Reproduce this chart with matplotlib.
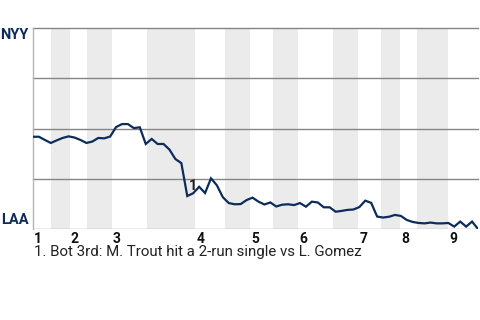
import matplotlib
matplotlib.use("Agg")
import matplotlib.pyplot as plt

plt.rcParams['font.family'] = ['Roboto', 'DejaVu Sans']

# NYY win probability (%) after each event
win_prob = [45.9, 45.9, 44.3, 42.8, 44.1, 45.3, 46.1, 45.5, 44.3, 42.8,
            43.5, 45.3, 45.1, 46.0, 50.7, 52.2, 52.2, 50.2, 50.6, 42.3,
            44.8, 42.3, 42.3, 39.5, 34.8, 32.8, 16.4, 17.8, 21.0, 17.9,
            25.2, 21.7, 15.8, 12.9, 12.3, 12.4, 14.4, 15.6, 13.6, 12.2,
            13.2, 11.2, 12.1, 12.3, 11.9, 12.9, 11.1, 13.6, 13.2, 10.8,
            10.8, 8.6, 9.0, 9.5, 9.7, 10.9, 14.1, 13.0, 6.2, 5.7,
            6.1, 7.0, 6.5, 4.5, 3.5, 3.0, 2.8, 3.2, 2.8, 2.8,
            3.0, 1.2, 3.7, 1.2, 3.7, 0.0]
events = list(range(len(win_prob)))

# start of each half inning (event scale)
half_starts = [0, 3.0, 6.2, 9.1, 13.3, 19.2, 27.3, 32.4, 36.6, 40.5,
               44.7, 50.6, 54.8, 58.7, 61.9, 64.7, 69.9, 75]
innings = ['1', '2', '3', '4', '5', '6', '7', '8', '9']

note_event = 26
note_label = '1'
note_text = '1. Bot 3rd: M. Trout hit a 2-run single vs L. Gomez'

navy = '#0c2c5a'

fig = plt.figure(figsize=(4.8, 3.2), dpi=100)
ax = fig.add_axes([33/480, 1 - 229/320, 445/480, 201/320])
ax.set_xlim(0, events[-1])
ax.set_ylim(0, 100)

# shaded bottom halves
for k in range(1, len(half_starts) - 1, 2):
    ax.axvspan(half_starts[k], half_starts[k + 1], color='#ebebeb', lw=0, zorder=0)

for yv in [25, 50, 75, 100]:
    ax.axhline(yv, color='#858585', lw=1, zorder=1, clip_on=False)
ax.axhline(0, color='#a0a0a0', lw=1, zorder=1)

ax.plot(events, win_prob, color=navy, lw=1.6, zorder=3, solid_joinstyle='miter')

ax.annotate(note_label, (events[note_event], win_prob[note_event]),
            xytext=(4, 7), textcoords='offset points', ha='center', va='center',
            fontsize=10.5, fontweight='bold', color='#222222')

for s in ['top', 'right', 'bottom']:
    ax.spines[s].set_visible(False)
ax.spines['left'].set_color('#b5b5b5')
ax.spines['left'].set_linewidth(1)
ax.set_xticks([])
ax.set_yticks([])

# inning labels at the start of each top half
for i, lab in enumerate(innings):
    ax.text(half_starts[2 * i] + 0.2, -1.3, lab, ha='left', va='top',
            fontsize=10, fontweight='bold', color='#111111')

ax.text(-0.75, 96.5, 'NYY', ha='right', va='center',
        fontsize=10.5, fontweight='bold', color=navy)
ax.text(-0.75, 4.5, 'LAA', ha='right', va='center',
        fontsize=10.5, fontweight='bold', color=navy)

fig.text(34/480, 1 - 252/320, note_text, ha='left', va='center',
         fontsize=10.8, color='#222222')

plt.savefig('out.png', dpi=100)
plt.close(fig)
